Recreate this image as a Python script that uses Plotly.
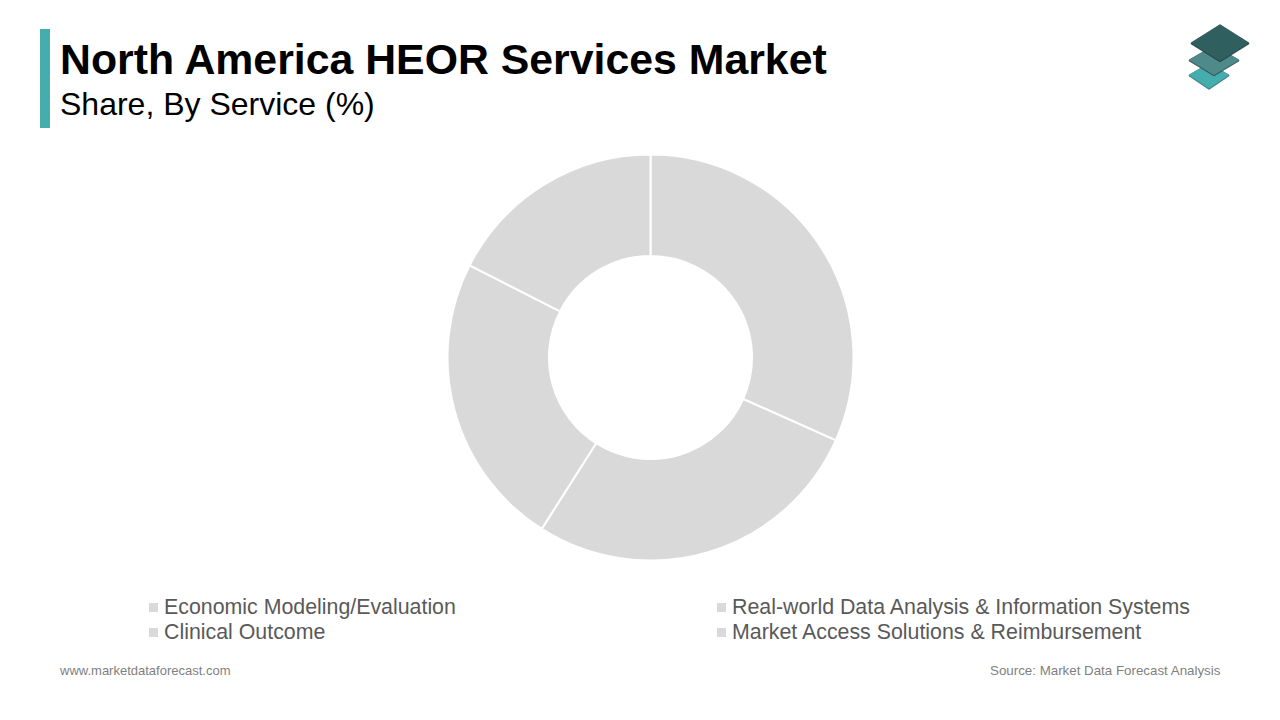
import plotly.graph_objects as go

W, H = 1280, 720

# Data
services = ["Economic Modeling/Evaluation", "Real-world Data Analysis & Information Systems",
            "Clinical Outcome", "Market Access Solutions & Reimbursement"]
shares = [31.7, 27.3, 23.5, 17.5]
slice_colors = ["#D9D9D9", "#D9D9D9", "#D9D9D9", "#D9D9D9"]

title_text = "North America HEOR Services Market"
subtitle_text = "Share, By Service (%)"
footer_left = "www.marketdatafreecast.com".replace("free", "fore")
footer_right = "Source: Market Data Forecast Analysis"

# Layout helpers (pixel coordinates measured from top-left)
def px(x):
    return x / W
def py(y):
    return 1 - y / H

def poly(points, fill):
    path = "M " + " L ".join(f"{px(x):.5f},{py(y):.5f}" for x, y in points) + " Z"
    return dict(type="path", xref="paper", yref="paper", path=path,
                fillcolor=fill, line=dict(color=fill, width=0.5), layer="above")

def rect(x0, y0, x1, y1, fill):
    return dict(type="rect", xref="paper", yref="paper", x0=px(x0), x1=px(x1),
                y0=py(y0), y1=py(y1), fillcolor=fill, line=dict(width=0))

def text(x, y, s, size, color, anchor="left", family="Liberation Sans"):
    return dict(xref="paper", yref="paper", x=px(x), y=py(y), text=s, showarrow=False,
                xanchor=anchor, yanchor="middle", align=anchor,
                borderpad=0, borderwidth=0,
                font=dict(family=family, size=size, color=color))

fig = go.Figure(go.Pie(
    labels=services, values=shares, hole=0.5, sort=False, direction="clockwise", rotation=0,
    marker=dict(colors=slice_colors, line=dict(color="#FFFFFF", width=2)),
    textinfo="none", hoverinfo="label+percent", showlegend=False,
    domain=dict(x=[px(447.5), px(853.5)], y=[py(560.5), py(154.5)]),
))

legend_pos = [(149, 607), (717, 607), (149, 632), (717, 632)]
shapes = [rect(40, 29, 50, 128, "#45ADAD")]
annotations = [
    text(60, 58.5, f"<b>{title_text}</b>", 42.8, "#000000"),
    text(60, 104, subtitle_text, 32, "#000000"),
    text(59, 670, footer_left, 13, "#7F7F7F"),
    text(1221, 670, footer_right, 13.33, "#7F7F7F", anchor="right"),
]
for (x, y), name, c in zip(legend_pos, services, slice_colors):
    shapes.append(rect(x, y - 4, x + 9, y + 5, c))
    annotations.append(text(x + 15, y, name, 21.35, "#595959"))

# Stacked-layers logo
shapes += [
    poly([(1189, 75), (1209, 64), (1229, 75), (1229, 76), (1209, 89.5), (1189, 76)], "#2F6E6E"),
    poly([(1189, 75), (1209, 63), (1229, 75), (1209, 88.5)], "#45ADAD"),
    poly([(1189, 60), (1214, 46), (1239, 60), (1239, 61), (1214, 76), (1189, 61)], "#2E4A49"),
    poly([(1189, 60), (1214, 45), (1239, 60), (1214, 75)], "#4F8A8A"),
    poly([(1191, 43), (1220, 25), (1249, 43), (1249, 44), (1220, 62), (1191, 44)], "#263F3E"),
    poly([(1191, 43), (1220, 24.5), (1249, 43), (1220, 61)], "#2F5F5F"),
]

fig.update_layout(width=W, height=H, margin=dict(l=0, r=0, t=0, b=0),
                  paper_bgcolor="#FFFFFF", plot_bgcolor="#FFFFFF",
                  shapes=shapes, annotations=annotations,
                  font=dict(family="Liberation Sans"))

fig.write_html("out.html", post_script="document.body.style.margin='0';",
               config=dict(displayModeBar=False))
